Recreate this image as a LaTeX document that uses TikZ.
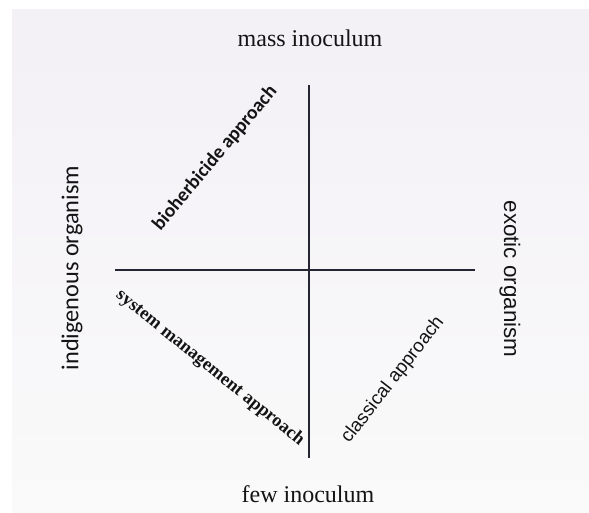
\documentclass[tikz,border=0pt]{standalone}
\usepackage{fontspec}
\setmainfont{Liberation Serif}
\newfontfamily\arialf{Liberation Sans}
\newfontfamily\calib{Carlito}
\begin{document}
\begin{tikzpicture}[x=1pt,y=-1pt,
  axis/.style={line width=1.3pt,draw={rgb,255:red,35;green,38;blue,50}},
  lbl/.style={inner sep=0pt,text={rgb,255:red,20;green,20;blue,20}}]
\useasboundingbox (0,0) rectangle (589,512);
\fill[white] (0,0) rectangle (589,512);
\shade[top color={rgb,255:red,243;green,240;blue,246},bottom color={rgb,255:red,250;green,250;blue,250}] (12,9) rectangle (589,512);
% axis end points
\coordinate (top) at (309,85);
\coordinate (bot) at (309,458);
\coordinate (lft) at (115,270);
\coordinate (rgt) at (475,270);
\draw[axis] (top) -- (bot);
\draw[axis] (lft) -- (rgt);
% labels
\node[lbl,font=\fontsize{24}{26}\selectfont] (mass) at (310,38) {mass inoculum};
\node[lbl,font=\fontsize{24}{26}\selectfont] (few) at (308,494) {few inoculum};
\node[lbl,font=\calib\fontsize{24.3}{26}\selectfont,rotate=90] (indig) at (72,268) {indigenous organism};
\node[lbl,font=\arialf\fontsize{22.4}{24}\selectfont,rotate=-90] (exo) at (510,279) {exotic organism};
\node[lbl,font=\calib\bfseries\fontsize{19.5}{22}\selectfont,rotate=50] (bio) at (215,158) {bioherbicide approach};
\node[lbl,font=\bfseries\fontsize{18.3}{20}\selectfont,rotate=-39] (sys) at (210,368) {system management approach};
\node[lbl,font=\arialf\fontsize{18.8}{20}\selectfont,rotate=52] (cla) at (393,380) {classical approach};
\end{tikzpicture}
\end{document}
